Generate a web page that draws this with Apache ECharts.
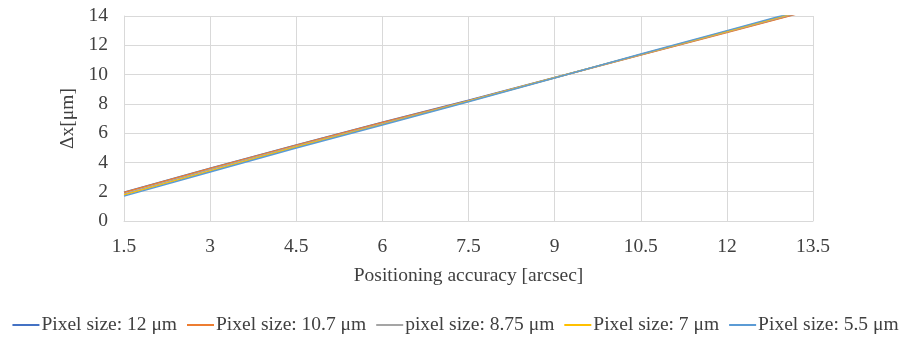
<!DOCTYPE html>
<html>
<head>
<meta charset="utf-8">
<script src="https://cdn.jsdelivr.net/npm/echarts@6/dist/echarts.min.js"></script>
<style>
  html, body { margin: 0; padding: 0; background: #fff; }
  #chart { width: 911px; height: 337px; }
</style>
</head>
<body>
<div id="chart"></div>
<script>
// positioning accuracy [arcsec]
const accuracy = [1.5, 3, 4.5, 6, 7.5, 9, 10.5, 12, 13.5];

// Δx [μm] for each pixel size
const px12   = [1.97, 3.60, 5.20, 6.75, 8.25, 9.80, 11.35, 12.90, 14.45];
const px10_7 = [1.95, 3.58, 5.18, 6.72, 8.22, 9.78, 11.33, 12.88, 14.43];
const px8_75 = [1.85, 3.50, 5.10, 6.65, 8.20, 9.78, 11.37, 12.93, 14.50];
const px7    = [1.78, 3.42, 5.05, 6.60, 8.18, 9.78, 11.38, 12.96, 14.55];
const px5_5  = [1.70, 3.35, 4.98, 6.55, 8.15, 9.77, 11.40, 13.00, 14.60];

const seriesNames = [
    'Pixel size: 12 μm',
    'Pixel size: 10.7 μm',
    'pixel size: 8.75 μm',
    'Pixel size: 7 μm',
    'Pixel size: 5.5 μm'
];
const seriesData = [px12, px10_7, px8_75, px7, px5_5];
const colors = ['#4472C4', '#ED7D31', '#A5A5A5', '#FFC000', '#5B9BD5'];

const FONT = '"Liberation Serif", "DejaVu Serif", serif';
const TEXT = '#404040';
const GRID = '#d9d9d9';

const chart = echarts.init(document.getElementById('chart'));

chart.setOption({
    animation: false,
    color: colors,
    textStyle: { fontFamily: FONT },
    grid: {
        left: 124,
        right: 98,
        top: 16,
        bottom: 116,
        containLabel: false
    },
    legend: {
        bottom: 2,
        left: 'center',
        width: 911,
        padding: 0,
        itemGap: 10,
        itemWidth: 27,
        itemHeight: 2,
        icon: 'rect',
        textStyle: { fontFamily: FONT, fontSize: 19.5, color: TEXT, padding: [0, 0, 0, -3] },
        data: seriesNames
    },
    xAxis: {
        type: 'value',
        min: 1.5,
        max: 13.5,
        interval: 1.5,
        name: 'Positioning accuracy [arcsec]',
        nameLocation: 'middle',
        nameGap: 45,
        nameTextStyle: { fontFamily: FONT, fontSize: 19.5, color: TEXT },
        axisLine: { show: true, lineStyle: { color: GRID, width: 1 } },
        axisTick: { show: false },
        axisLabel: { fontFamily: FONT, fontSize: 19.5, color: TEXT, margin: 16 },
        splitLine: { show: true, lineStyle: { color: GRID, width: 1 } }
    },
    yAxis: {
        type: 'value',
        min: 0,
        max: 14,
        interval: 2,
        name: 'Δx[μm]',
        nameLocation: 'middle',
        nameGap: 43,
        nameRotate: 90,
        nameTextStyle: { fontFamily: FONT, fontSize: 19.5, color: TEXT },
        axisLine: { show: true, lineStyle: { color: GRID, width: 1 } },
        axisTick: { show: false },
        axisLabel: { fontFamily: FONT, fontSize: 19.5, color: TEXT, margin: 16 },
        splitLine: { show: true, lineStyle: { color: GRID, width: 1 } }
    },
    series: seriesNames.map((name, i) => ({
        name: name,
        type: 'line',
        data: accuracy.map((x, j) => [x, seriesData[i][j]]),
        showSymbol: false,
        symbol: 'none',
        clip: true,
        lineStyle: { width: 1.5, color: colors[i] },
        itemStyle: { color: colors[i] }
    }))
});
</script>
</body>
</html>
